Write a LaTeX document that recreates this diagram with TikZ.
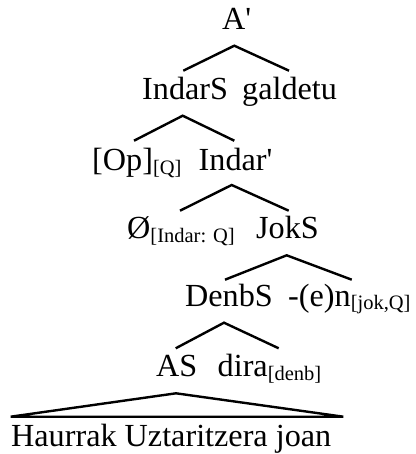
\documentclass[tikz,border=0pt]{standalone}
\usepackage{fontspec}
\setmainfont{Liberation Serif}[Ligatures=TeXOff]
\newcommand{\mysub}[1]{\raisebox{-3.5pt}{\fontsize{20.5}{20.5}\selectfont #1}}
\tikzset{
  lbl/.style={anchor=base west, inner sep=0pt, font=\fontsize{32.2}{32.2}\selectfont},
  branch/.style={line width=2.4pt, line cap=butt, line join=miter}
}
\begin{document}
\begin{tikzpicture}[x=1pt,y=-1pt]
\useasboundingbox (0,0) rectangle (415,454);
% labels
\node[lbl] (A) at (222,30) {A'};
\node[lbl] (IS) at (142,100) {IndarS};
\node[lbl] (gal) at (242,100) {galdetu};
\node[lbl] (Op) at (92,171) {[Op]\mysub{[Q]}};
\node[lbl] (Ib) at (198.5,171) {Indar'};
\node[lbl] (null) at (127,238.5) {Ø\mysub{[Indar: Q]}};
\node[lbl] (JS) at (256,238.5) {JokS};
\node[lbl] (DS) at (185,306) {DenbS};
\node[lbl] (en) at (288,306) {-(e)n\mysub{[jok,Q]}};
\node[lbl] (AS) at (156,376.5) {AS};
\node[lbl] (dira) at (217.5,376.5) {dira\mysub{[denb]}};
\node[lbl] (H) at (11,446) {Haurrak Uztaritzera joan};
% branch points
\coordinate (a0) at (234.3,45.7);
\coordinate (a1) at (183.3,70.7);
\coordinate (a2) at (289,70.7);
\coordinate (b0) at (182.7,115.7);
\coordinate (b1) at (134,140.7);
\coordinate (b2) at (234.3,140.7);
\coordinate (c0) at (231.7,185);
\coordinate (c1) at (180,210.7);
\coordinate (c2) at (288.7,210.7);
\coordinate (d0) at (286.7,255.3);
\coordinate (d1) at (225,279.7);
\coordinate (d2) at (351.7,279.7);
\coordinate (e0) at (224,322.7);
\coordinate (e1) at (175.7,348.3);
\coordinate (e2) at (278.7,348.3);
\coordinate (t0) at (176,393.3);
\coordinate (t1) at (10.7,416.7);
\coordinate (t2) at (343.3,416.7);
% branches
\draw[branch] (a1) -- (a0) -- (a2);
\draw[branch] (b1) -- (b0) -- (b2);
\draw[branch] (c1) -- (c0) -- (c2);
\draw[branch] (d1) -- (d0) -- (d2);
\draw[branch] (e1) -- (e0) -- (e2);
\draw[branch] (t0) -- (t1) -- (t2) -- cycle;
\end{tikzpicture}
\end{document}
